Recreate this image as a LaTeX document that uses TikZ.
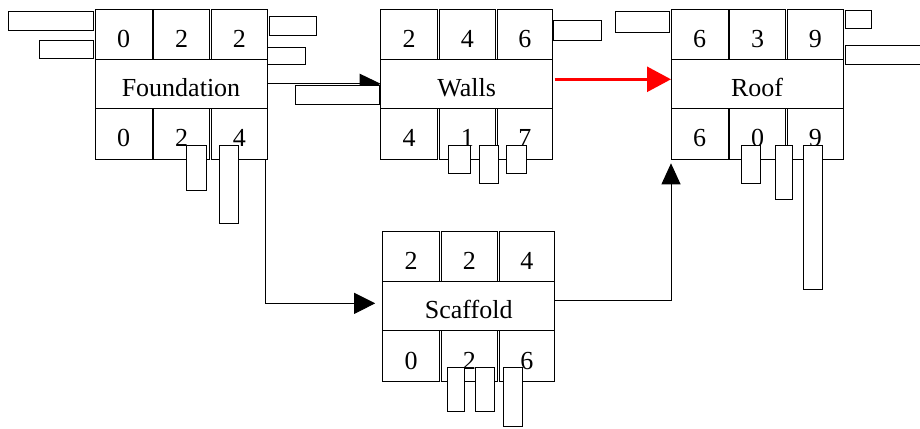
\documentclass[tikz,border=0pt]{standalone}
\usepackage{fontspec}
\setmainfont{Liberation Serif}
\newfontfamily\tnrfont{Liberation Serif}
\usetikzlibrary{arrows.meta}
\tikzset{
  cellbox/.style={draw, line width=1pt, inner sep=0pt, outer sep=0pt, anchor=north west,
    font=\tnrfont\fontsize{26}{30}\selectfont, text height=26pt, text depth=0pt},
  stray/.style={draw, fill=white, line width=1pt},
  conn/.style={draw, line width=1pt},
  blackhead/.style={-{Triangle[length=21pt,width=#1]}},
}
% #1 name prefix, #2 left, #3 top, #4 height, #5-#7 digits
\newcommand\cellrow[7]{%
  \node[cellbox, minimum width=57pt, minimum height=#4pt] (#1a) at (#2,#3) {#5};
  \node[cellbox, minimum width=56pt, minimum height=#4pt] (#1b) at ({#2+58.7},#3) {#6};
  \node[cellbox, minimum width=55.5pt, minimum height=#4pt] (#1c) at ({#2+116.5},#3) {#7};
}
% #1 name, #2 left, #3 top, #4 label
\newcommand\midrow[4]{%
  \node[cellbox, minimum width=172pt, minimum height=49pt] (#1) at (#2,{#3+50}) {#4};
}
\begin{document}
\begin{tikzpicture}[x=1pt,y=-1pt]
\fill[white] (0,0) rectangle (920,428);
\useasboundingbox (0,0) rectangle (920,428);

% Foundation
\cellrow{Ft}{95}{9.3}{50}{0}{2}{2}
\midrow{F}{95}{9.3}{Foundation}
\cellrow{Fb}{95}{108.3}{51}{0}{2}{4}
% Walls
\cellrow{Wt}{380.7}{9.3}{50}{2}{4}{6}
\midrow{W}{380.7}{9.3}{Walls}
\cellrow{Wb}{380.7}{108.3}{51}{4}{1}{7}
% Roof
\cellrow{Rt}{671}{9.3}{50}{6}{3}{9}
\midrow{R}{671}{9.3}{Roof}
\cellrow{Rb}{671}{108.3}{51}{6}{0}{9}
% Scaffold
\cellrow{St}{382.7}{231.7}{49.3}{2}{2}{4}
\node[cellbox, minimum width=172pt, minimum height=49.7pt] (S) at (382.7,281) {Scaffold};
\cellrow{Sb}{382.7}{330.7}{51}{0}{2}{6}

% connectors
\draw[conn, blackhead=20pt] (F.east) -- (W.west);
\draw[line width=2.7pt, red, -{Triangle[length=24pt,width=25pt]}, shorten <=2pt]
  ([yshift=4.5pt]W.east) -- ([yshift=4.5pt]R.west);
\draw[conn, blackhead=21pt, shorten >=7.5pt]
  ([xshift=-2pt]Fbc.south east) |- ([yshift=2.5pt]S.west);
\draw[conn, blackhead=19pt, shorten >=4pt]
  ([yshift=5pt]S.east) -| (Rba.south west);

% stray boxes
\draw[stray] (8.3,11.7) rectangle (93.3,30.7);
\draw[stray] (39,41) rectangle (93.3,59);
\draw[stray] (269.3,16.7) rectangle (316.7,36);
\draw[stray] (267.3,47.7) rectangle (305,64);
\draw[stray] (295,85) rectangle (379.3,104.3);
\draw[stray] (186.7,145) rectangle (206,190);
\draw[stray] (219,145) rectangle (238.3,223.3);
\draw[stray] (553.3,21) rectangle (601.7,40.7);
\draw[stray] (448.7,145) rectangle (470.3,173.3);
\draw[stray] (479,145) rectangle (498.7,183.3);
\draw[stray] (506.7,145) rectangle (526.7,173.3);
\draw[stray] (615,11.7) rectangle (669,32.3);
\draw[stray] (845.7,11) rectangle (871.7,28.3);
\draw[stray] (845.7,45.7) rectangle (922,64);
\draw[stray] (741,145) rectangle (760.3,183.3);
\draw[stray] (775,145) rectangle (792.3,199.3);
\draw[stray] (803.3,145) rectangle (822.3,289.3);
\draw[stray] (447,367.7) rectangle (464.3,411.7);
\draw[stray] (475,367.7) rectangle (494.3,411.7);
\draw[stray] (503,367.7) rectangle (522.3,426.7);
\end{tikzpicture}
\end{document}
